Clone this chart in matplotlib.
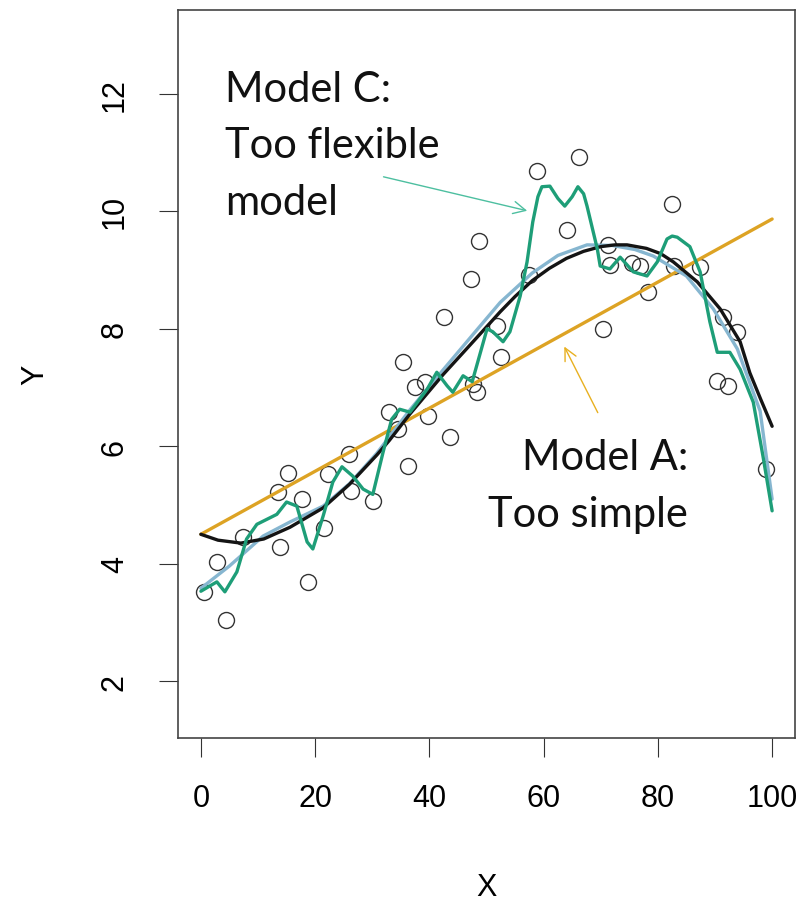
import matplotlib.pyplot as plt

# observed points
x_obs = [0.5, 2.8, 4.4, 7.4, 13.5, 13.8, 15.2, 17.7, 18.7, 21.5, 22.2, 25.9, 26.3,
         30.1, 32.9, 34.5, 35.4, 36.3, 37.5, 39.2, 39.8, 42.6, 43.6, 47.3, 47.6,
         48.3, 48.7, 51.8, 52.5, 57.4, 58.8, 64.1, 66.2, 70.4, 71.3, 71.6, 75.5,
         76.9, 78.3, 82.5, 82.8, 87.4, 90.4, 91.4, 92.3, 93.9, 98.9]
y_obs = [3.52, 4.03, 3.04, 4.45, 5.22, 4.28, 5.54, 5.10, 3.69, 4.61, 5.53, 5.87, 5.24,
         5.07, 6.58, 6.29, 7.43, 5.66, 7.01, 7.09, 6.51, 8.20, 6.16, 8.85, 7.06,
         6.92, 9.50, 8.05, 7.52, 8.92, 10.69, 9.68, 10.93, 8.00, 9.43, 9.09, 9.12,
         9.07, 8.63, 10.13, 9.07, 9.05, 7.11, 8.20, 7.03, 7.95, 5.61]

# model A: linear fit
x_lin = [0, 100]
y_lin = [4.50, 9.87]

# true curve
x_true = [0, 3, 7, 11, 15.6, 21.4, 26, 30.8, 33, 36.6, 42.4, 48.3, 52.4, 55, 58,
          61, 64, 67, 70, 72.5, 74.6, 78, 80.5, 82.7, 86.9, 90.9, 94.4, 96.1, 98, 100]
y_true = [4.50, 4.40, 4.35, 4.42, 4.62, 4.95, 5.35, 5.85, 6.10, 6.55, 7.22, 7.85,
          8.29, 8.55, 8.82, 9.03, 9.20, 9.32, 9.40, 9.43, 9.43, 9.37, 9.28, 9.14,
          8.80, 8.34, 7.78, 7.25, 6.80, 6.34]

# smoothing spline, moderate flexibility
x_smooth = [0, 5, 10.9, 15.6, 21.4, 26, 30.8, 36.6, 42.4, 48.3, 52.4, 58, 62.5,
            67.6, 72, 76, 79.2, 85, 89.7, 93.9, 97.9, 100]
y_smooth = [3.58, 3.96, 4.47, 4.71, 4.98, 5.36, 5.88, 6.62, 7.30, 7.98, 8.45, 8.95,
            9.25, 9.43, 9.42, 9.35, 9.24, 8.90, 8.34, 7.66, 6.60, 5.10]

# model C: very flexible fit
x_flex = [0, 2.8, 4.2, 6.3, 8, 9.8, 13.3, 15, 16.8, 18.6, 19.6, 21.4, 23.1, 24.7,
          26.6, 28.4, 30.1, 31.9, 33.4, 34.8, 36.6, 39.6, 41.3, 43.1, 44.1, 45.9,
          47.5, 50.1, 51.1, 52.9, 54.1, 55.9, 57.1, 58.1, 59.0, 59.7, 61.1, 62.5,
          63.7, 65.0, 66, 67.0, 67.6, 69.4, 69.9, 71.6, 73.4, 75.7, 78.1, 79.9,
          81.6, 82.5, 83.4, 85.6, 87.4, 89.1, 90.4, 92.6, 94.4, 96.7, 98.4, 100]
y_flex = [3.53, 3.69, 3.52, 3.86, 4.42, 4.67, 4.84, 5.05, 4.98, 4.37, 4.25, 4.81,
          5.39, 5.65, 5.49, 5.27, 5.18, 5.90, 6.46, 6.63, 6.58, 6.97, 7.26, 7.03,
          6.92, 7.20, 7.10, 8.00, 7.95, 7.78, 7.95, 8.56, 9.14, 9.82, 10.25, 10.42,
          10.43, 10.22, 10.09, 10.25, 10.42, 10.30, 10.09, 9.36, 9.07, 9.02, 9.22,
          8.97, 8.90, 9.14, 9.53, 9.58, 9.56, 9.40, 8.97, 8.12, 7.60, 7.60, 7.31,
          6.75, 5.83, 4.90]

fig = plt.figure(figsize=(8.03, 9.04), dpi=100)
ax = fig.add_axes([0.2217, 0.1825, 0.7683, 0.8053])

line_kw = dict(lw=2.4, solid_joinstyle='round', solid_capstyle='round')
ax.plot(x_obs, y_obs, 'o', ms=11.5, mfc='none', mec='#333333', mew=1.0, zorder=2)
ax.plot(x_lin, y_lin, color='#DDA324', zorder=3, **line_kw)
ax.plot(x_smooth, y_smooth, color='#86B6D0', zorder=3, **line_kw)
ax.plot(x_true, y_true, color='#141414', zorder=4, **line_kw)
ax.plot(x_flex, y_flex, color='#1E9E78', zorder=5, **line_kw)

ax.set_xlim(-4, 104)
ax.set_ylim(1.03, 13.43)
ax.set_xticks([0, 20, 40, 60, 80, 100])
ax.set_yticks([2, 4, 6, 8, 10, 12])

tick_font = {'family': 'Liberation Sans', 'size': 22}
ax.set_xticklabels([0, 20, 40, 60, 80, 100], fontdict=tick_font)
ax.set_yticklabels([2, 4, 6, 8, 10, 12], fontdict=tick_font, rotation=90, va='center')
ax.tick_params(length=13.7, width=0.8, color='#333333')
ax.tick_params(axis='x', pad=19)
ax.tick_params(axis='y', pad=21)
for s in ax.spines.values():
    s.set_color('#444444')
    s.set_linewidth(1.2)

ax.set_xlabel('X', family='Liberation Sans', fontsize=22)
ax.xaxis.set_label_coords(0.5, -0.2047)
ax.xaxis.label.set_va('center')
ax.set_ylabel('Y', family='Liberation Sans', fontsize=22)
ax.yaxis.set_label_coords(-0.232, 0.5)
ax.yaxis.label.set_va('center')

# annotations
note_font = {'family': 'Lato', 'size': 30, 'color': '#111111'}
for line, yb in zip(['Model C:', 'Too flexible', 'model'], [11.88, 10.93, 9.96]):
    ax.text(4.2, yb, line, ha='left', va='baseline', fontdict=note_font)
for line, yb in zip(['Model A:', 'Too simple'], [5.61, 4.64]):
    ax.text(85.3, yb, line, ha='right', va='baseline', fontdict=note_font)

ax.annotate('', xy=(57.6, 10.0), xytext=(31.5, 10.6),
            arrowprops=dict(arrowstyle='->', color='#4DBFA0', lw=1.0, mutation_scale=22))
ax.annotate('', xy=(63.4, 7.74), xytext=(69.7, 6.53),
            arrowprops=dict(arrowstyle='->', color='#E8B020', lw=1.0, mutation_scale=22))

fig.savefig('out.png', dpi=100)
